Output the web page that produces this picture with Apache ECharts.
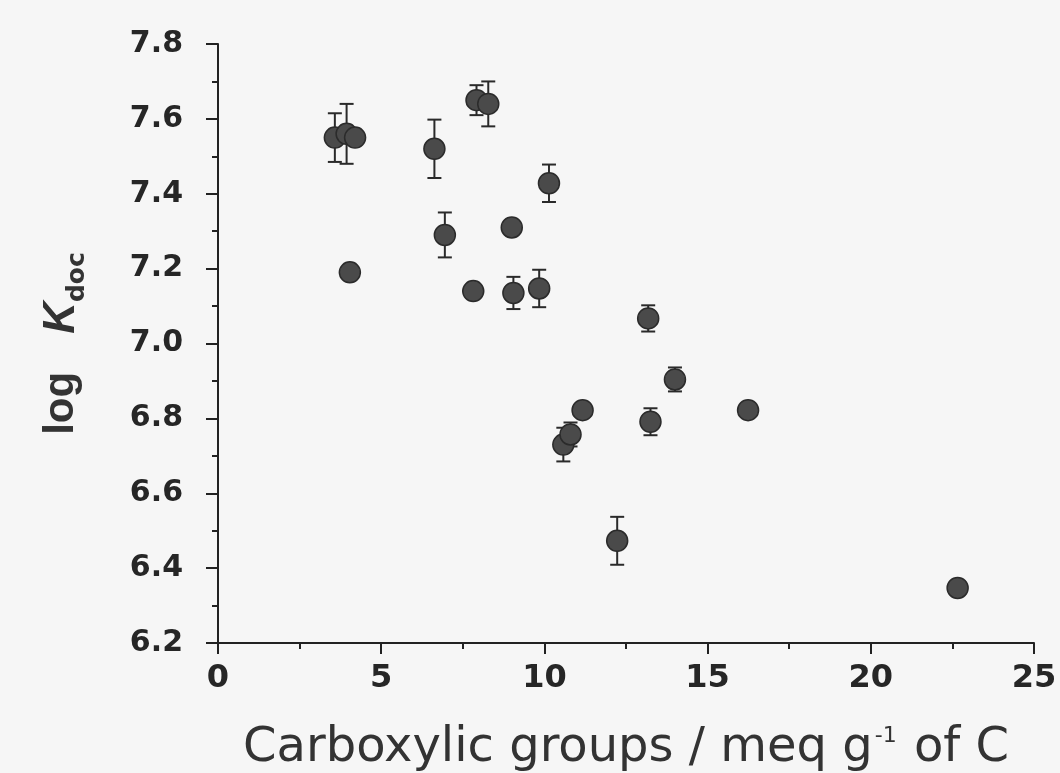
<!DOCTYPE html>
<html>
<head>
<meta charset="utf-8">
<script src="https://cdn.jsdelivr.net/npm/echarts@6/dist/echarts.min.js"></script>
<style>
	html, body { margin: 0; padding: 0; background: #f6f6f6; }
	#chart { width: 1060px; height: 773px; }
</style>
</head>
<body>
<div id="chart"></div>
<script>
	// carboxylic groups (meq/g C)
	const carboxyl = [3.58, 3.94, 4.20, 4.04, 6.63, 6.95, 7.82, 7.92, 8.28, 9.00, 9.05,
		9.84, 10.14, 10.58, 10.80, 11.17, 12.23, 13.18, 13.25, 14.00, 16.24, 22.66];
	// log K_doc
	const logK = [7.55, 7.56, 7.55, 7.19, 7.52, 7.29, 7.14, 7.65, 7.64, 7.31, 7.135,
		7.147, 7.428, 6.73, 6.757, 6.822, 6.473, 7.067, 6.791, 6.904, 6.822, 6.347];
	// error (+/-) on log K
	const logKErr = [0.065, 0.08, 0, 0, 0.078, 0.06, 0, 0.04, 0.06, 0.02, 0.043,
		0.05, 0.05, 0.045, 0.032, 0, 0.064, 0.035, 0.036, 0.032, 0, 0];

	const xTicks = [0, 5, 10, 15, 20, 25];
	const yTicks = [6.2, 6.4, 6.6, 6.8, 7.0, 7.2, 7.4, 7.6, 7.8];

	const points = carboxyl.map((x, i) => [x, logK[i]]);
	const errData = carboxyl.map((x, i) => [x, logK[i] - logKErr[i], logK[i] + logKErr[i]]);

	const chart = echarts.init(document.getElementById("chart"));

	const ink = "#262626";

	const option = {
		backgroundColor: "#f6f6f6",
		animation: false,
		grid: { left: 218, right: 26, top: 44, bottom: 130, outerBoundsMode: "none", containLabel: false },
		xAxis: {
			type: "value",
			min: xTicks[0],
			max: xTicks[xTicks.length - 1],
			interval: 5,
			splitLine: { show: false },
			axisLine: { lineStyle: { color: "#222", width: 2 } },
			axisTick: { length: 11, lineStyle: { color: "#222", width: 2 } },
			minorTick: { show: true, splitNumber: 2, length: 6, lineStyle: { color: "#222", width: 2 } },
			axisLabel: { margin: 20, fontFamily: "DejaVu Sans", fontWeight: "bold", fontSize: 32, color: ink },
			name: "{t|Carboxylic groups / meq g}{s|-1}{t| of C}",
			nameLocation: "middle",
			nameGap: 82,
			nameTextStyle: {
				rich: {
					t: { fontFamily: "DejaVu Sans", fontSize: 48, color: "#333", verticalAlign: "bottom" },
					s: { fontFamily: "DejaVu Sans", fontSize: 22, color: "#333", verticalAlign: "top", padding: [0, 2, 26, 2] }
				}
			}
		},
		yAxis: {
			type: "value",
			min: yTicks[0],
			max: yTicks[yTicks.length - 1],
			interval: 0.2,
			splitLine: { show: false },
			axisLine: { show: true, lineStyle: { color: "#222", width: 2 } },
			axisTick: { show: true, length: 12, lineStyle: { color: "#222", width: 2 } },
			minorTick: { show: true, splitNumber: 2, length: 6, lineStyle: { color: "#222", width: 2 } },
			axisLabel: { margin: 35, formatter: v => v.toFixed(1), fontFamily: "DejaVu Sans", fontWeight: "bold", fontSize: 30, color: ink },
			name: "{t|log}{k|K}{s|doc}",
			nameLocation: "middle",
			nameRotate: 90,
			nameGap: 128,
			nameTextStyle: {
				rich: {
					t: { fontFamily: "Liberation Sans", fontWeight: "bold", fontSize: 42, lineHeight: 50, color: "#333", verticalAlign: "top", padding: [0, 0, 20, 0] },
					k: { fontFamily: "Liberation Sans", fontWeight: "bold", fontStyle: "italic", fontSize: 44, lineHeight: 50, color: "#333", verticalAlign: "top", padding: [0, 0, 20, 38] },
					s: { fontFamily: "DejaVu Sans", fontWeight: "bold", fontSize: 25, lineHeight: 25, color: "#333", verticalAlign: "bottom" }
				}
			}
		},
		series: [
			{
				name: "error",
				type: "custom",
				z: 1,
				data: errData,
				renderItem: (params, api) => {
					const x = api.value(0);
					const lo = api.coord([x, api.value(1)]);
					const hi = api.coord([x, api.value(2)]);
					if (Math.abs(lo[1] - hi[1]) < 1) return null;
					const half = 7;
					const style = { stroke: "#2a2a2a", lineWidth: 2 };
					return {
						type: "group",
						children: [
							{ type: "line", shape: { x1: lo[0], y1: lo[1], x2: hi[0], y2: hi[1] }, style },
							{ type: "line", shape: { x1: lo[0] - half, y1: lo[1], x2: lo[0] + half, y2: lo[1] }, style },
							{ type: "line", shape: { x1: hi[0] - half, y1: hi[1], x2: hi[0] + half, y2: hi[1] }, style }
						]
					};
				}
			},
			{
				name: "log Kdoc",
				type: "scatter",
				z: 2,
				data: points,
				symbol: "circle",
				symbolSize: 21,
				itemStyle: {
					color: "#4a4a4a",
					borderColor: "#2b2b2b",
					borderWidth: 1.5,
					opacity: 1
				}
			}
		]
	};

	chart.setOption(option);
</script>
</body>
</html>
